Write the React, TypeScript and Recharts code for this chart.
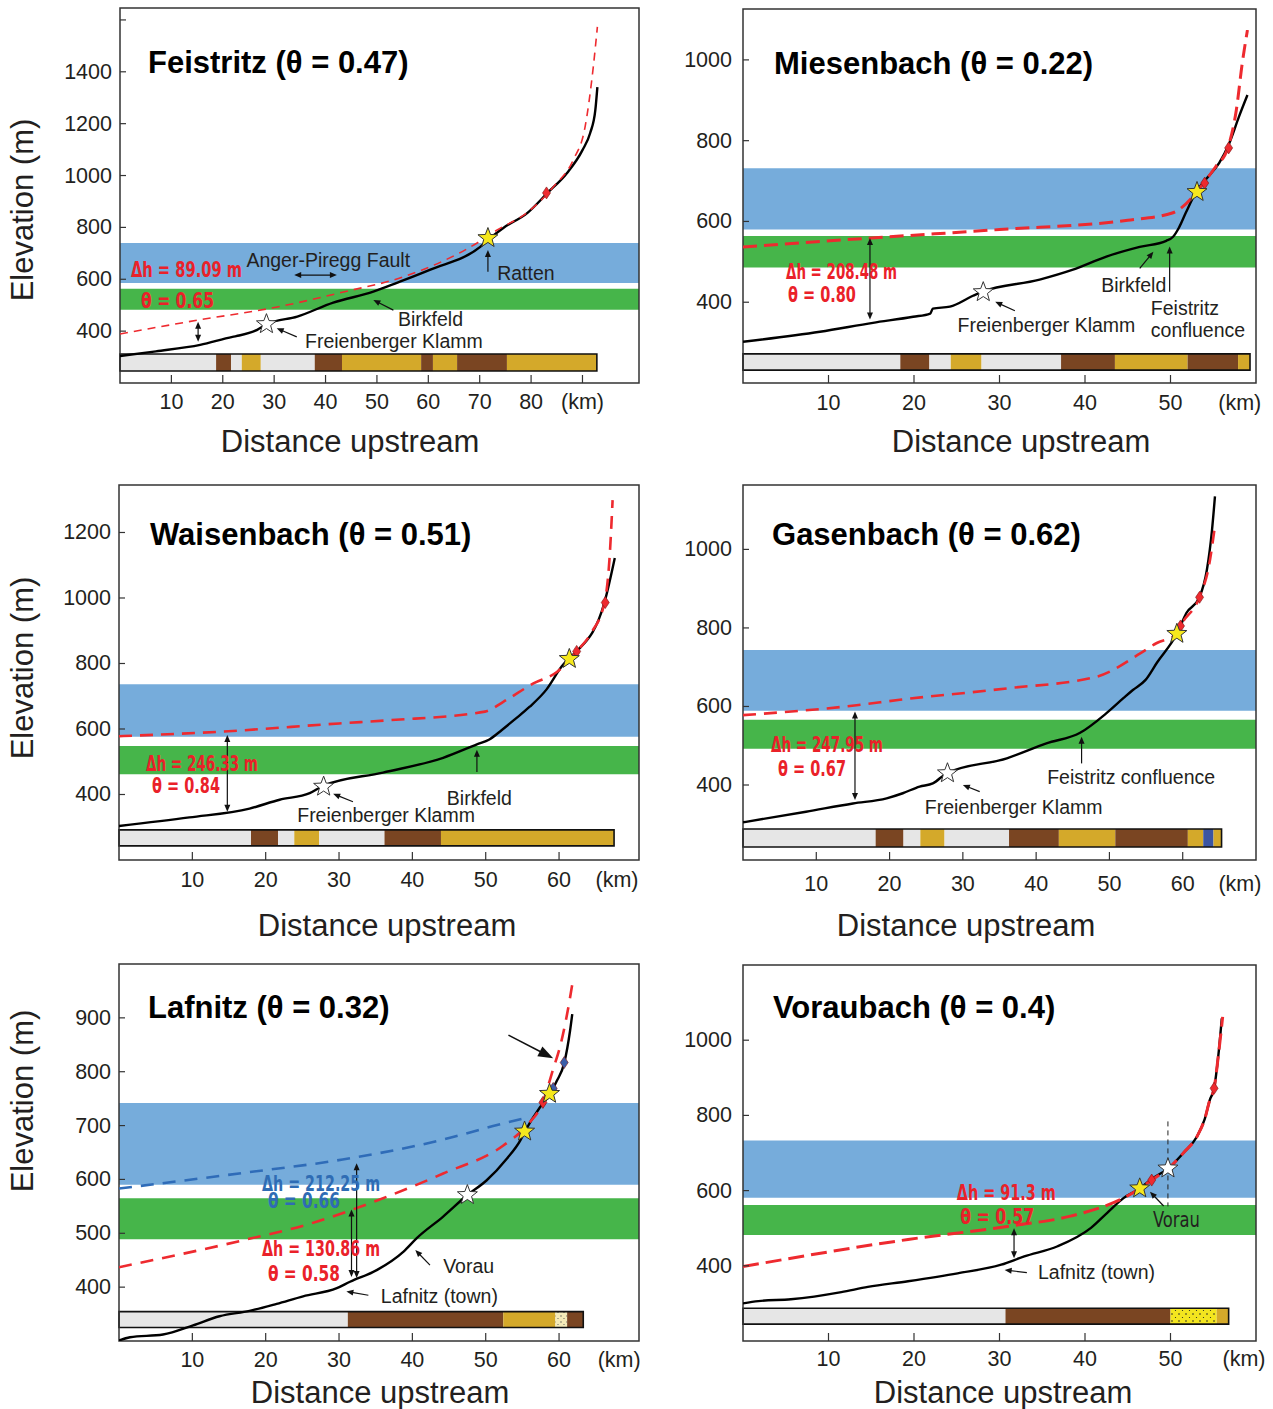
import React from 'react';
import { ComposedChart, Line, XAxis, YAxis, ReferenceArea, ReferenceLine, ReferenceDot } from 'recharts';

type Pt = [number, number];
type Litho = [number, number, string];

const SANS = "'Liberation Sans', Arial, Helvetica, sans-serif";
const NARROW = "'Liberation Sans Narrow', 'Arial Narrow', 'DejaVu Sans Condensed', sans-serif";

const C = {
  band: '#76acdb', green: '#46b54a', red: '#ee2a2f', redText: '#ea2129', blueLine: '#2f6cb8',
  blueText: '#2f6cb4', star: '#f6e81d', ink: '#231f20',
};
const LITHO_FILL: Record<string, string> = {
  g: '#e6e6e6', b: '#7a4522', o: '#d4a92a', u: '#3b55a2', y: 'url(#dotsYellow)', c: 'url(#dotsCream)',
};

// ---------------- Feistritz ----------------
const feistritzProfile: Pt[] = [[0, 304], [7, 322], [15.6, 347], [21.9, 378], [23.2, 383], [26.7, 405], [28.7, 428], [34.5, 456], [41.5, 510], [49.3, 552], [54, 587], [60.4, 637], [70.1, 725], [72.1, 760], [74.6, 798], [79.3, 856], [83.2, 933], [87, 1010], [90, 1098], [91.5, 1164], [92.5, 1252], [92.9, 1341]];
const feistritzFit: Pt[] = [[0, 389], [15.3, 443], [30.6, 493], [43.5, 551], [55.1, 609], [69.5, 740], [73.4, 790], [79.3, 858], [84.3, 956], [88.2, 1060], [90.5, 1187], [92.1, 1418], [92.9, 1573]];
const feistritzLitho: Litho[] = [[0, 18.7, 'g'], [18.7, 21.6, 'b'], [21.6, 23.7, 'g'], [23.7, 27.4, 'o'], [27.4, 37.9, 'g'], [37.9, 43.2, 'b'], [43.2, 58.6, 'o'], [58.6, 60.9, 'b'], [60.9, 65.6, 'o'], [65.6, 75.3, 'b'], [75.3, 92.8, 'o']];

// ---------------- Miesenbach ----------------
const miesenbachProfile: Pt[] = [[0, 302], [9, 327], [15.2, 349], [19.9, 364], [21.9, 372], [22.2, 384], [24.2, 389], [26.9, 416], [28, 426], [34.7, 456], [38.5, 480], [42.5, 513], [46.4, 537], [49.5, 552], [50.3, 562], [51, 585], [51.8, 622], [53, 673], [54.3, 708], [55.7, 745], [56.9, 795], [58, 859], [59, 913]];
const miesenbachFit: Pt[] = [[0, 537], [15, 559], [30, 580], [45, 603], [50.2, 621], [53, 671], [53.9, 696], [55.3, 736], [56.7, 782], [57.7, 876], [58.4, 993], [59, 1074]];
const miesenbachLitho: Litho[] = [[0, 18.4, 'g'], [18.4, 21.8, 'b'], [21.8, 24.3, 'g'], [24.3, 27.9, 'o'], [27.9, 37.2, 'g'], [37.2, 43.5, 'b'], [43.5, 52, 'o'], [52, 57.9, 'b'], [57.9, 59.3, 'o']];

// ---------------- Waisenbach ----------------
const waisenbachProfile: Pt[] = [[0, 304], [9.6, 330], [17.8, 357], [21.9, 384], [26, 404], [27.8, 426], [36, 467], [44.2, 512], [48.8, 553], [50.5, 568], [52.2, 597], [54, 630], [56, 668], [58.3, 721], [60.4, 792], [61.3, 815], [62.4, 837], [66.2, 987], [67.6, 1122]];
const waisenbachFit: Pt[] = [[0, 578], [14, 592], [30, 617], [37, 627], [49.9, 653], [52.4, 683], [56.5, 739], [59.7, 774], [62.4, 837], [64.4, 894], [66.2, 987], [66.9, 1127], [67.3, 1299]];
const waisenbachLitho: Litho[] = [[0, 18, 'g'], [18, 21.7, 'b'], [21.7, 23.9, 'g'], [23.9, 27.3, 'o'], [27.3, 36.2, 'g'], [36.2, 43.9, 'b'], [43.9, 67.5, 'o']];

// ---------------- Gasenbach ----------------
const gasenbachProfile: Pt[] = [[0, 305], [8.6, 332], [15, 353], [19.6, 366], [21.8, 379], [24.1, 396], [25.9, 404], [27.8, 430], [36, 468], [41.4, 506], [46, 533], [49.6, 583], [51.9, 621], [53.2, 642], [54.9, 667], [56.5, 712], [59.2, 785], [60.5, 838], [62.3, 879], [63.3, 948], [64, 1050], [64.4, 1135]];
const gasenbachFit: Pt[] = [[0, 578], [15.5, 603], [21.4, 617], [36, 646], [48.3, 676], [54.2, 735], [56.4, 761], [59.2, 785], [59.7, 805], [62.3, 879], [63.6, 960], [64.4, 1060]];
const gasenbachLitho: Litho[] = [[0, 18.1, 'g'], [18.1, 21.9, 'b'], [21.9, 24.2, 'g'], [24.2, 27.5, 'o'], [27.5, 36.3, 'g'], [36.3, 43.1, 'b'], [43.1, 50.8, 'o'], [50.8, 60.7, 'b'], [60.7, 62.8, 'o'], [62.8, 64.2, 'u'], [64.2, 65.3, 'o']];

// ---------------- Lafnitz ----------------
const lafnitzProfile: Pt[] = [[0, 301], [1.5, 307], [6, 312], [10.1, 329], [13.7, 346], [17.8, 356], [21.5, 369], [25.1, 383], [29.7, 398], [31.5, 410], [35.2, 432], [38.8, 466], [40.6, 491], [44.2, 531], [47.5, 571], [50.1, 598], [52.9, 639], [54.7, 672], [55.3, 688], [57.4, 734], [58.7, 757], [59.7, 783], [60.7, 816], [61.5, 876], [61.8, 907]];
const lafnitzFitRed: Pt[] = [[0, 437], [16.9, 487], [26.1, 518], [35.2, 561], [44.2, 611], [52.4, 663], [55.6, 700], [57.8, 744], [59.2, 805], [60.2, 850], [61, 900], [61.8, 962]];
const lafnitzFitBlue: Pt[] = [[0, 583], [16.9, 612], [30.5, 637], [44.2, 674], [51, 699], [55.4, 714]];
const lafnitzLitho: Litho[] = [[0, 31.2, 'g'], [31.2, 52.4, 'b'], [52.4, 59.5, 'o'], [59.5, 61.1, 'c'], [61.1, 63.3, 'b']];

// ---------------- Voraubach ----------------
const voraubachProfile: Pt[] = [[0, 300], [1.8, 306], [5.6, 311], [11.5, 330], [14.6, 344], [19.3, 359], [25.1, 380], [30.2, 403], [32.9, 425], [36.8, 452], [40.7, 501], [42.6, 541], [44.5, 580], [46.5, 607], [47.7, 629], [50, 664], [51.5, 700], [53.1, 744], [54, 790], [54.6, 841], [55.1, 872], [55.6, 960], [56, 1058]];
const voraubachFit: Pt[] = [[0, 398], [19.3, 470], [31.7, 507], [38.3, 532], [44.9, 585], [46.5, 607], [47.8, 628], [50, 664], [51.5, 700], [53.1, 744], [54, 790], [54.6, 841], [55.1, 872], [55.6, 960], [56.1, 1062]];
const voraubachLitho: Litho[] = [[0, 30.7, 'g'], [30.7, 50, 'b'], [50, 55.4, 'y'], [55.4, 56.8, 'o']];

const pts = (a: Pt[]) => a.map(([x, y]) => ({ x, y }));

type Txt = { x: number; y: number; text: string; kind: 'title' | 'note' | 'dhRed' | 'dhBlue' | 'narrow'; len?: number };
type Arrow = { from: Pt; to: Pt; both?: boolean; big?: boolean; dashed?: boolean };
type Fit = { data: Pt[]; color: string; width: number; dash: string };

interface PanelProps {
  box: { left: number; top: number; right: number; bottom: number };
  xDomain: [number, number]; yDomain: [number, number];
  xTicks: number[]; kmAt: number; kmLine: boolean; xLabelDy: number;
  yTicks: number[]; yHidden: number[]; yLabelDx: number;
  blueBand: Pt; greenBand: Pt;
  litho: Litho[]; lithoY: Pt;
  profile: Pt[]; fits: Fit[];
  yellowStars: Pt[]; whiteStars: Pt[]; diamonds: { p: Pt; color: string }[];
  texts: Txt[]; arrows: Arrow[];
}

const TICK_FS = 21.5;

const XTick = (props: any) => {
  const { x, y, payload, kmAt, kmLine, dy } = props;
  const v = payload.value;
  const isKm = v === kmAt;
  return (
    <g>
      {(!isKm || kmLine) && <line x1={x} y1={y} x2={x} y2={y - 8} stroke="#333" strokeWidth={1.2} />}
      <text x={x} y={y + dy} textAnchor="middle" dominantBaseline="central" fontSize={TICK_FS} fontFamily={SANS} fill={C.ink}>
        {isKm ? '(km)' : v}
      </text>
    </g>
  );
};

const YTick = (props: any) => {
  const { x, y, payload, hidden, dx } = props;
  return (
    <g>
      <line x1={x} y1={y} x2={x + 6} y2={y} stroke="#333" strokeWidth={1.2} />
      {!hidden.includes(payload.value) && (
        <text x={x - dx} y={y} textAnchor="end" dominantBaseline="central" fontSize={TICK_FS} fontFamily={SANS} fill={C.ink}>
          {payload.value}
        </text>
      )}
    </g>
  );
};

const starPoints = (cx: number, cy: number, R: number, r: number) => {
  const out: string[] = [];
  for (let i = 0; i < 10; i++) {
    const a = -Math.PI / 2 + (i * Math.PI) / 5;
    const rr = i % 2 === 0 ? R : r;
    out.push(`${cx + rr * Math.cos(a)},${cy + rr * Math.sin(a)}`);
  }
  return out.join(' ');
};

const starShape = (fill: string) => (p: any) => (
  <polygon points={starPoints(p.cx, p.cy, 10.5, 4.4)} fill={fill} stroke="#333" strokeWidth={1} />
);

const diamondShape = (fill: string) => (p: any) => (
  <polygon points={`${p.cx},${p.cy - 6} ${p.cx + 4},${p.cy} ${p.cx},${p.cy + 6} ${p.cx - 4},${p.cy}`} fill={fill} stroke="#7a1010" strokeWidth={0.6} />
);

const textShape = (t: Txt) => (p: any) => {
  const base: any = { x: p.cx, y: p.cy, dominantBaseline: 'central', textAnchor: 'start' };
  if (t.kind === 'title') return <text {...base} fontSize={31} fontWeight={700} fontFamily={SANS} fill="#000">{t.text}</text>;
  if (t.kind === 'note') return <text {...base} fontSize={19.5} fontFamily={SANS} fill={C.ink}>{t.text}</text>;
  const color = t.kind === 'dhRed' ? C.redText : t.kind === 'dhBlue' ? C.blueText : C.ink;
  return (
    <text {...base} fontSize={22} fontWeight={t.kind === 'narrow' ? 400 : 700} fontFamily={NARROW} fill={color}
      textLength={t.len} lengthAdjust="spacingAndGlyphs">{t.text}</text>
  );
};

const arrowShape = (a: Arrow) => (p: any) => {
  const { x1, y1, x2, y2 } = p;
  const head = a.big ? 15 : 7;
  const hw = a.big ? 5.5 : 3;
  const sw = a.big ? 1.6 : 1.2;
  const dx = x2 - x1, dy = y2 - y1;
  const L = Math.hypot(dx, dy) || 1;
  const ux = dx / L, uy = dy / L;
  const tri = (tx: number, ty: number, ddx: number, ddy: number) => {
    const bx = tx - ddx * head, by = ty - ddy * head;
    return `${tx},${ty} ${bx - ddy * hw},${by + ddx * hw} ${bx + ddy * hw},${by - ddx * hw}`;
  };
  if (a.dashed) return <line x1={x1} y1={y1} x2={x2} y2={y2} stroke="#222" strokeWidth={1} strokeDasharray="5 4" />;
  const sx = a.both ? x1 + ux * head * 0.8 : x1;
  const sy = a.both ? y1 + uy * head * 0.8 : y1;
  return (
    <g>
      <line x1={sx} y1={sy} x2={x2 - ux * head * 0.8} y2={y2 - uy * head * 0.8} stroke="#111" strokeWidth={sw} />
      <polygon points={tri(x2, y2, ux, uy)} fill="#111" />
      {a.both && <polygon points={tri(x1, y1, -ux, -uy)} fill="#111" />}
    </g>
  );
};

function Panel(p: PanelProps) {
  const W = p.box.right - p.box.left;
  const H = p.box.bottom - p.box.top;
  const lx1 = p.litho[0][0];
  const lx2 = p.litho[p.litho.length - 1][1];
  return (
    <div style={{ position: 'absolute', left: p.box.left - 70, top: p.box.top - 10 }}>
      <ComposedChart width={W + 100} height={H + 50} margin={{ top: 10, right: 30, bottom: 0, left: 0 }}>
        <XAxis type="number" dataKey="x" domain={p.xDomain} allowDataOverflow ticks={p.xTicks} interval={0}
          height={40} axisLine={false} tickLine={false} tickSize={0} tickMargin={0}
          tick={(t: any) => <XTick {...t} kmAt={p.kmAt} kmLine={p.kmLine} dy={p.xLabelDy} />} />
        <YAxis type="number" dataKey="y" domain={p.yDomain} allowDataOverflow ticks={p.yTicks} interval={0}
          width={70} axisLine={false} tickLine={false} tickSize={0} tickMargin={0}
          tick={(t: any) => <YTick {...t} hidden={p.yHidden} dx={p.yLabelDx} />} />
        <ReferenceArea y1={p.blueBand[0]} y2={p.blueBand[1]} fill={C.band} fillOpacity={1} stroke="none" ifOverflow="visible" />
        <ReferenceArea y1={p.greenBand[0]} y2={p.greenBand[1]} fill={C.green} fillOpacity={1} stroke="none" ifOverflow="visible" />
        {p.litho.map(([a, b, k], i) => (
          <ReferenceArea key={'l' + i} x1={a} x2={b} y1={p.lithoY[0]} y2={p.lithoY[1]} fill={LITHO_FILL[k]} fillOpacity={1} stroke="none" ifOverflow="visible" />
        ))}
        <ReferenceArea x1={lx1} x2={lx2} y1={p.lithoY[0]} y2={p.lithoY[1]} fill="none" stroke="#111" strokeWidth={1.6} ifOverflow="visible" />
        <Line data={pts(p.profile)} dataKey="y" type="monotone" stroke="#000" strokeWidth={2.4} dot={false} activeDot={false} isAnimationActive={false} />
        {p.fits.map((f, i) => (
          <Line key={'f' + i} data={pts(f.data)} dataKey="y" type="monotone" stroke={f.color} strokeWidth={f.width}
            strokeDasharray={f.dash} dot={false} activeDot={false} isAnimationActive={false} />
        ))}
        {p.arrows.map((a, i) => (
          <ReferenceLine key={'a' + i} segment={[{ x: a.from[0], y: a.from[1] }, { x: a.to[0], y: a.to[1] }]} shape={arrowShape(a)} ifOverflow="visible" />
        ))}
        {p.diamonds.map((d, i) => (
          <ReferenceDot key={'d' + i} x={d.p[0]} y={d.p[1]} r={0} shape={diamondShape(d.color)} ifOverflow="visible" />
        ))}
        {p.whiteStars.map((s, i) => (
          <ReferenceDot key={'w' + i} x={s[0]} y={s[1]} r={0} shape={starShape('#ffffff')} ifOverflow="visible" />
        ))}
        {p.yellowStars.map((s, i) => (
          <ReferenceDot key={'s' + i} x={s[0]} y={s[1]} r={0} shape={starShape(C.star)} ifOverflow="visible" />
        ))}
        {p.texts.map((t, i) => (
          <ReferenceDot key={'t' + i} x={t.x} y={t.y} r={0} shape={textShape(t)} ifOverflow="visible" />
        ))}
        <ReferenceArea x1={p.xDomain[0]} x2={p.xDomain[1]} y1={p.yDomain[0]} y2={p.yDomain[1]} fill="none" stroke="#333" strokeWidth={1.5} ifOverflow="visible" />
      </ComposedChart>
    </div>
  );
}

const panels: PanelProps[] = [
  {
    box: { left: 120, top: 8, right: 639, bottom: 383 }, xDomain: [0, 101], yDomain: [200, 1646],
    xTicks: [10, 20, 30, 40, 50, 60, 70, 80, 90], kmAt: 90, kmLine: true, xLabelDy: 19,
    yTicks: [400, 600, 800, 1000, 1200, 1400, 1600], yHidden: [1600], yLabelDx: 8,
    blueBand: [586, 740], greenBand: [482, 563], litho: feistritzLitho, lithoY: [246, 312],
    profile: feistritzProfile, fits: [{ data: feistritzFit, color: C.red, width: 1.6, dash: '8 6' }],
    yellowStars: [[71.6, 759]], whiteStars: [[28.5, 427]], diamonds: [{ p: [83.0, 933], color: C.red }],
    texts: [
      { x: 5.45, y: 1434, text: 'Feistritz (θ = 0.47)', kind: 'title' },
      { x: 2.14, y: 636, text: 'Δh = 89.09 m', kind: 'dhRed', len: 111 },
      { x: 4.09, y: 520, text: 'θ = 0.65', kind: 'dhRed', len: 73 },
      { x: 24.6, y: 674, text: 'Anger-Piregg Fault', kind: 'note' },
      { x: 73.4, y: 624, text: 'Ratten', kind: 'note' },
      { x: 54.1, y: 447, text: 'Birkfeld', kind: 'note' },
      { x: 36.0, y: 362, text: 'Freienberger Klamm', kind: 'note' },
    ],
    arrows: [
      { from: [33.9, 616], to: [42.2, 616], both: true },
      { from: [71.6, 629], to: [71.6, 713] },
      { from: [53.2, 481], to: [49.3, 520] },
      { from: [34.4, 378], to: [30.5, 411] },
      { from: [15.2, 436], to: [15.2, 359], both: true },
    ],
  },
  {
    box: { left: 743, top: 9, right: 1256, bottom: 383 }, xDomain: [0, 60], yDomain: [200, 1126],
    xTicks: [10, 20, 30, 40, 50, 58.1], kmAt: 58.1, kmLine: false, xLabelDy: 20,
    yTicks: [400, 600, 800, 1000], yHidden: [], yLabelDx: 11,
    blueBand: [580, 732], greenBand: [486, 564], litho: miesenbachLitho, lithoY: [232, 272],
    profile: miesenbachProfile, fits: [{ data: miesenbachFit, color: C.red, width: 3, dash: '14 7' }],
    yellowStars: [[53.1, 673]], whiteStars: [[28.1, 425]],
    diamonds: [{ p: [54.0, 695], color: C.red }, { p: [56.8, 782], color: C.red }],
    texts: [
      { x: 3.63, y: 992, text: 'Miesenbach (θ = 0.22)', kind: 'title' },
      { x: 5.03, y: 475, text: 'Δh = 208.48 m', kind: 'dhRed', len: 111 },
      { x: 5.26, y: 420, text: 'θ = 0.80', kind: 'dhRed', len: 68 },
      { x: 25.1, y: 344, text: 'Freienberger Klamm', kind: 'note' },
      { x: 41.9, y: 443, text: 'Birkfeld', kind: 'note' },
      { x: 47.7, y: 386, text: 'Feistritz', kind: 'note' },
      { x: 47.7, y: 331, text: 'confluence', kind: 'note' },
    ],
    arrows: [
      { from: [14.85, 559], to: [14.85, 357], both: true },
      { from: [31.8, 379], to: [29.5, 401] },
      { from: [46.4, 484], to: [48.0, 525] },
      { from: [49.9, 426], to: [49.9, 538] },
    ],
  },
  {
    box: { left: 119, top: 485, right: 639, bottom: 860 }, xDomain: [0, 70.9], yDomain: [200, 1345],
    xTicks: [10, 20, 30, 40, 50, 60, 67.9], kmAt: 67.9, kmLine: false, xLabelDy: 20,
    yTicks: [400, 600, 800, 1000, 1200], yHidden: [], yLabelDx: 8,
    blueBand: [576, 737], greenBand: [462, 548], litho: waisenbachLitho, lithoY: [243, 292],
    profile: waisenbachProfile, fits: [{ data: waisenbachFit, color: C.red, width: 2.6, dash: '13 8' }],
    yellowStars: [[61.4, 814]], whiteStars: [[27.9, 424]],
    diamonds: [{ p: [62.4, 837], color: C.red }, { p: [66.3, 986], color: C.red }],
    texts: [
      { x: 4.23, y: 1195, text: 'Waisenbach (θ = 0.51)', kind: 'title' },
      { x: 3.68, y: 496, text: 'Δh = 246.33 m', kind: 'dhRed', len: 112 },
      { x: 4.5, y: 426, text: 'θ = 0.84', kind: 'dhRed', len: 68 },
      { x: 44.7, y: 389, text: 'Birkfeld', kind: 'note' },
      { x: 24.3, y: 337, text: 'Freienberger Klamm', kind: 'note' },
    ],
    arrows: [
      { from: [14.77, 582], to: [14.77, 347], both: true },
      { from: [48.8, 469], to: [48.8, 537] },
      { from: [31.9, 378], to: [29.2, 402] },
    ],
  },
  {
    box: { left: 743, top: 485, right: 1256, bottom: 860 }, xDomain: [0, 70], yDomain: [209, 1164],
    xTicks: [10, 20, 30, 40, 50, 60, 67.8], kmAt: 67.8, kmLine: false, xLabelDy: 24,
    yTicks: [400, 600, 800, 1000], yHidden: [], yLabelDx: 11,
    blueBand: [589, 744], greenBand: [492, 566], litho: gasenbachLitho, lithoY: [242, 288],
    profile: gasenbachProfile, fits: [{ data: gasenbachFit, color: C.red, width: 2.6, dash: '13 8' }],
    yellowStars: [[59.2, 785]], whiteStars: [[27.9, 430]],
    diamonds: [{ p: [59.7, 805], color: C.red }, { p: [62.3, 878], color: C.red }],
    texts: [
      { x: 3.96, y: 1039, text: 'Gasenbach (θ = 0.62)', kind: 'title' },
      { x: 3.82, y: 502, text: 'Δh = 247.95 m', kind: 'dhRed', len: 112 },
      { x: 4.78, y: 443, text: 'θ = 0.67', kind: 'dhRed', len: 68 },
      { x: 41.5, y: 420, text: 'Feistritz confluence', kind: 'note' },
      { x: 24.8, y: 344, text: 'Freienberger Klamm', kind: 'note' },
    ],
    arrows: [
      { from: [15.28, 587], to: [15.28, 362], both: true },
      { from: [46.2, 455], to: [46.2, 523] },
      { from: [32.3, 383], to: [30.0, 400] },
    ],
  },
  {
    box: { left: 119, top: 964, right: 639, bottom: 1341 }, xDomain: [0, 70.9], yDomain: [300, 1000],
    xTicks: [10, 20, 30, 40, 50, 60, 68.2], kmAt: 68.2, kmLine: false, xLabelDy: 19,
    yTicks: [400, 500, 600, 700, 800, 900], yHidden: [], yLabelDx: 8,
    blueBand: [590, 742], greenBand: [489, 565], litho: lafnitzLitho, lithoY: [325, 354.5],
    profile: lafnitzProfile,
    fits: [
      { data: lafnitzFitBlue, color: C.blueLine, width: 2.6, dash: '13 9' },
      { data: lafnitzFitRed, color: C.red, width: 2.6, dash: '13 9' },
    ],
    yellowStars: [[55.3, 689], [58.7, 759]], whiteStars: [[47.5, 571]],
    diamonds: [{ p: [57.8, 743], color: C.red }, { p: [59.2, 769], color: '#3b5da8' }, { p: [60.7, 817], color: '#3b5da8' }],
    texts: [
      { x: 3.95, y: 920, text: 'Lafnitz (θ = 0.32)', kind: 'title' },
      { x: 19.5, y: 593, text: 'Δh = 212.25 m', kind: 'dhBlue', len: 118 },
      { x: 20.3, y: 560, text: 'θ = 0.66', kind: 'dhBlue', len: 72 },
      { x: 19.5, y: 471, text: 'Δh = 130.86 m', kind: 'dhRed', len: 118 },
      { x: 20.3, y: 426, text: 'θ = 0.58', kind: 'dhRed', len: 72 },
      { x: 44.2, y: 439, text: 'Vorau', kind: 'note' },
      { x: 35.7, y: 384, text: 'Lafnitz (town)', kind: 'note' },
    ],
    arrows: [
      { from: [32.4, 630], to: [32.4, 417], both: true },
      { from: [31.7, 544], to: [31.7, 419], both: true },
      { from: [42.4, 441], to: [40.4, 469] },
      { from: [34.0, 385], to: [31.0, 392] },
      { from: [53.1, 868], to: [59.2, 825], big: true },
    ],
  },
  {
    box: { left: 743, top: 965, right: 1256, bottom: 1341 }, xDomain: [0, 60], yDomain: [200, 1200],
    xTicks: [10, 20, 30, 40, 50, 58.6], kmAt: 58.6, kmLine: false, xLabelDy: 18,
    yTicks: [400, 600, 800, 1000], yHidden: [], yLabelDx: 11,
    blueBand: [581, 733], greenBand: [482, 562], litho: voraubachLitho, lithoY: [245, 287],
    profile: voraubachProfile, fits: [{ data: voraubachFit, color: C.red, width: 3, dash: '16 7' }],
    yellowStars: [[46.4, 606]], whiteStars: [[49.7, 659]],
    diamonds: [{ p: [47.8, 628], color: C.red }, { p: [55.1, 872], color: C.red }],
    texts: [
      { x: 3.5, y: 1088, text: 'Voraubach (θ = 0.4)', kind: 'title' },
      { x: 25.0, y: 594, text: 'Δh = 91.3 m', kind: 'dhRed', len: 99 },
      { x: 25.4, y: 532, text: 'θ = 0.57', kind: 'dhRed', len: 74 },
      { x: 47.95, y: 522, text: 'Vorau', kind: 'narrow', len: 47 },
      { x: 34.5, y: 384, text: 'Lafnitz (town)', kind: 'note' },
    ],
    arrows: [
      { from: [49.7, 784], to: [49.7, 558], dashed: true },
      { from: [31.7, 500], to: [31.7, 420], both: true },
      { from: [49.2, 559], to: [47.6, 597] },
      { from: [33.2, 382], to: [30.6, 389] },
    ],
  },
];

const yTitles: { x: number; y: number }[] = [{ x: 22, y: 210 }, { x: 22, y: 668 }, { x: 22, y: 1101 }];
const xTitles: { x: number; y: number }[] = [
  { x: 350, y: 441 }, { x: 1021, y: 441 }, { x: 387, y: 925 }, { x: 966, y: 925 }, { x: 380, y: 1392 }, { x: 1003, y: 1392 },
];

export default function App() {
  return (
    <div style={{ position: 'absolute', left: 0, top: 0, width: 1273, height: 1409, background: '#fff', overflow: 'hidden' }}>
      <svg width={0} height={0} style={{ position: 'absolute' }}>
        <defs>
          <pattern id="dotsYellow" width={7} height={7} patternUnits="userSpaceOnUse">
            <rect width={7} height={7} fill="#f3e51f" />
            <circle cx={2} cy={2} r={0.8} fill="#222" />
            <circle cx={5.5} cy={5.5} r={0.6} fill="#222" />
          </pattern>
          <pattern id="dotsCream" width={6} height={6} patternUnits="userSpaceOnUse">
            <rect width={6} height={6} fill="#f5ebb8" />
            <circle cx={2} cy={2} r={0.7} fill="#555" />
            <circle cx={5} cy={4.5} r={0.6} fill="#555" />
          </pattern>
        </defs>
      </svg>
      {panels.map((p, i) => <Panel key={i} {...p} />)}
      {yTitles.map((t, i) => (
        <div key={'yt' + i} style={{ position: 'absolute', left: t.x, top: t.y, transform: 'translate(-50%, -50%) rotate(-90deg)', fontFamily: SANS, fontSize: 31, lineHeight: 1, whiteSpace: 'nowrap', color: C.ink }}>
          Elevation (m)
        </div>
      ))}
      {xTitles.map((t, i) => (
        <div key={'xt' + i} style={{ position: 'absolute', left: t.x, top: t.y, transform: 'translate(-50%, -50%)', fontFamily: SANS, fontSize: 31, lineHeight: 1, whiteSpace: 'nowrap', color: C.ink }}>
          Distance upstream
        </div>
      ))}
    </div>
  );
}
